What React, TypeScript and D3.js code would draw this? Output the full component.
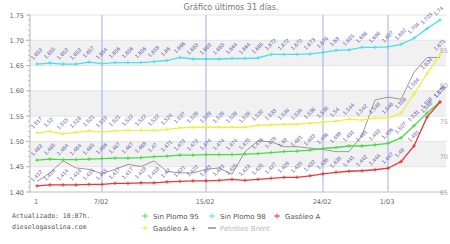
import React from "react";
import * as d3 from "d3";

const W = 450;
const H = 244;

const xTickIndex = [0, 5, 13, 22, 27];
const xTickLabels = ["1", "7/02", "15/02", "24/02", "1/03"];
const leftTicks = [1.4, 1.45, 1.5, 1.55, 1.6, 1.65, 1.7, 1.75];
const rightTicks = [65, 70, 75, 80, 85];

const sinPlomo95 = [1.463, 1.465, 1.464, 1.464, 1.465, 1.466, 1.467, 1.467, 1.468, 1.47, 1.471, 1.473, 1.473, 1.474, 1.474, 1.474, 1.475, 1.476, 1.478, 1.48, 1.481, 1.483, 1.486, 1.488, 1.491, 1.491, 1.493, 1.496, 1.507, 1.531, 1.556, 1.578];
const sinPlomo98 = [1.653, 1.655, 1.653, 1.653, 1.657, 1.654, 1.656, 1.656, 1.656, 1.658, 1.66, 1.666, 1.663, 1.663, 1.663, 1.664, 1.664, 1.665, 1.672, 1.672, 1.672, 1.673, 1.676, 1.68, 1.681, 1.686, 1.686, 1.687, 1.692, 1.704, 1.723, 1.74];
const gasoleoA = [1.412, 1.414, 1.414, 1.414, 1.415, 1.415, 1.417, 1.417, 1.418, 1.418, 1.42, 1.421, 1.422, 1.422, 1.423, 1.425, 1.423, 1.425, 1.427, 1.429, 1.429, 1.432, 1.436, 1.439, 1.441, 1.442, 1.444, 1.447, 1.46, 1.491, 1.548, 1.578];
const gasoleoAPlus = [1.517, 1.52, 1.515, 1.518, 1.521, 1.519, 1.521, 1.522, 1.522, 1.522, 1.524, 1.527, 1.528, 1.528, 1.528, 1.528, 1.528, 1.532, 1.533, 1.534, 1.534, 1.536, 1.538, 1.54, 1.544, 1.542, 1.546, 1.546, 1.556, 1.594, 1.634, 1.671];
const brent = [66.5, 67.7, 69.4, 68.4, 68.2, 67.6, 68.2, 68.9, 68.6, 69.4, 67.9, 67.7, 67.7, 68.2, 68.4, 67.5, 70.7, 72.2, 72.1, 71.4, 71.4, 71.2, 71.0, 70.7, 70.7, 73.0, 78.0, 78.4, 78.1, 81.9, 84.0, 84.0];

const series = [
  { name: "Sin Plomo 95", values: sinPlomo95, color: "#44dd44" },
  { name: "Sin Plomo 98", values: sinPlomo98, color: "#48e0ea" },
  { name: "Gasóleo A", values: gasoleoA, color: "#e83838" },
  { name: "Gasóleo A +", values: gasoleoAPlus, color: "#eeee44" },
];

const LEFT = 30, RIGHT = 446, TOP = 15, BOTTOM = 192;
const FONT = "DejaVu Sans, Verdana, sans-serif";

export default function App() {
  const n = sinPlomo98.length;
  const x = d3.scaleLinear().domain([0, n - 1]).range([37, 440]);
  const y = d3.scaleLinear().domain([1.4, 1.75]).range([BOTTOM, TOP]);
  const y2 = d3.scaleLinear().domain([65, 90]).range([BOTTOM, TOP]);
  const line = d3.line<number>().x((_, i) => x(i)).y((v) => y(v));
  const line2 = d3.line<number>().x((_, i) => x(i)).y((v) => y2(v));
  const minor = d3.range(1.4, 1.7501, 0.01);
  const bands = [[1.45, 1.5], [1.55, 1.6], [1.65, 1.7]];

  const fmt = (v: number) => String(+v.toFixed(3));

  return (
    <svg width={W} height={H} style={{ position: "absolute", left: 0, top: 0, background: "#fff" }} fontFamily={FONT}>
      <text x={231} y={10} fontSize={8} fill="#777" textAnchor="middle">Gráfico últimos 31 días.</text>
      {bands.map(([a, b], i) => (
        <rect key={i} x={LEFT} width={RIGHT - LEFT} y={y(b)} height={y(a) - y(b)} fill="#f1f1f1" />
      ))}
      {leftTicks.map((t, i) => (
        <line key={i} x1={LEFT} x2={RIGHT} y1={y(t)} y2={y(t)} stroke="#e4e4e4" strokeWidth={1} />
      ))}
      {xTickIndex.slice(1).map((idx, i) => (
        <line key={i} x1={x(idx)} x2={x(idx)} y1={TOP} y2={BOTTOM} stroke="#aaaaee" strokeWidth={1} />
      ))}
      <line x1={LEFT} x2={LEFT} y1={TOP} y2={BOTTOM} stroke="#bbb" />
      <line x1={LEFT} x2={RIGHT} y1={BOTTOM} y2={BOTTOM} stroke="#ccc" />
      {minor.map((t, i) => (
        <line key={i} x1={LEFT - 2} x2={LEFT} y1={y(t)} y2={y(t)} stroke="#bbb" />
      ))}
      {leftTicks.map((t, i) => (
        <g key={i}>
          <line x1={LEFT - 4} x2={LEFT} y1={y(t)} y2={y(t)} stroke="#bbb" />
          <text x={LEFT - 6} y={y(t) + 2.5} fontSize={6.5} fill="#666" textAnchor="end">{t.toFixed(2)}</text>
        </g>
      ))}
      {rightTicks.map((t, i) => (
        <text key={i} x={448} y={y2(t) + 2.5} fontSize={6.5} fill="#aaa" textAnchor="end">{t}</text>
      ))}
      {xTickIndex.map((idx, i) => (
        <text key={i} x={x(idx) - 1} y={204} fontSize={6.5} fill="#666" textAnchor="middle">{xTickLabels[i]}</text>
      ))}
      <path d={line2(brent) || ""} fill="none" stroke="#9a9a9a" strokeWidth={1} />
      {series.map((s) => (
        <g key={s.name}>
          <path d={line(s.values) || ""} fill="none" stroke={s.color} strokeWidth={1.3} />
          {s.values.map((v, i) => (
            <path key={i} d={`M${x(i) - 1.8},${y(v)}h3.6M${x(i)},${y(v) - 1.8}v3.6`} stroke={s.color} strokeWidth={1} />
          ))}
        </g>
      ))}
      {series.map((s) => (
        <g key={s.name + "l"}>
          {s.values.map((v, i) => (
            <text key={i} transform={`translate(${x(i) - 4},${y(v) - 4}) rotate(-45)`} fontSize={5.5} fill="#5555aa" fontFamily="Liberation Sans, Arial, sans-serif">{fmt(v)}</text>
          ))}
        </g>
      ))}
      <text x={12} y={218} fontSize={6.5} fill="#555" fontFamily="DejaVu Sans Mono, monospace">Actualizado: 10:07h.</text>
      <text x={12} y={229} fontSize={6.5} fill="#555" fontFamily="DejaVu Sans Mono, monospace">dieselogasolina.com</text>
      {[
        { s: series[0], lx: 145, ly: 216 },
        { s: series[1], lx: 212, ly: 216 },
        { s: series[2], lx: 277, ly: 216 },
        { s: series[3], lx: 145, ly: 228 },
      ].map(({ s, lx, ly }) => (
        <g key={s.name + "g"}>
          <path d={`M${lx - 3},${ly}h6M${lx},${ly - 2.5}v5`} stroke={s.color} strokeWidth={1} />
          <text x={lx + 8} y={ly + 2.5} fontSize={7} fill="#555">{s.name}</text>
        </g>
      ))}
      <rect x={208} y={227} width={8} height={2} fill="#aaa" />
      <text x={220} y={230.5} fontSize={7} fill="#bbb">Petróleo Brent</text>
    </svg>
  );
}
